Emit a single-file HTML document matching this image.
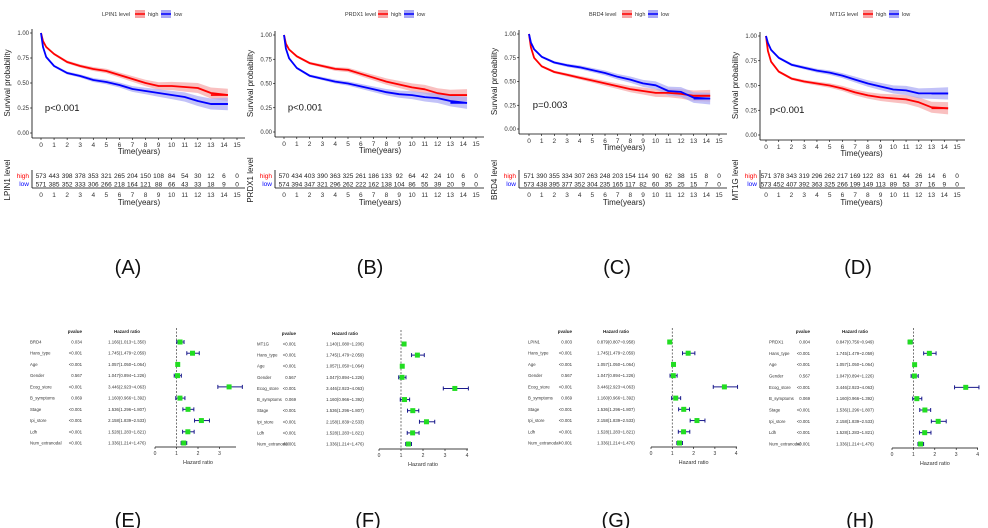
<!DOCTYPE html>
<html><head><meta charset="utf-8"><style>
body{margin:0;background:#fff;}
svg{display:block;font-family:"Liberation Sans",sans-serif;}
</style></head><body>
<svg id="fig" width="988" height="528" viewBox="0 0 988 528"></svg>
<script>
// ---- KM data (survival at years) ----
const kmYears=[0,0.15,0.4,1,2,3,4,5,6,7,8,9,10,11,12,13,14.3];
const genes=["LPIN1","PRDX1","BRD4","MT1G"];
const pvals=["p<0.001","p<0.001","p=0.003","p<0.001"];
const highA=[1,0.92,0.86,0.79,0.71,0.67,0.64,0.62,0.58,0.54,0.50,0.47,0.47,0.46,0.45,0.40,0.38];
const lowA =[1,0.86,0.76,0.67,0.60,0.57,0.53,0.51,0.48,0.44,0.42,0.40,0.38,0.36,0.32,0.29,0.29];
const highB=[1,0.91,0.85,0.78,0.71,0.68,0.65,0.64,0.60,0.56,0.52,0.49,0.46,0.44,0.40,0.38,0.38];
const lowB =[1,0.86,0.76,0.66,0.58,0.55,0.52,0.50,0.47,0.44,0.41,0.39,0.38,0.36,0.35,0.32,0.30];
const highC=[1,0.86,0.75,0.66,0.60,0.57,0.54,0.51,0.48,0.45,0.42,0.40,0.38,0.38,0.37,0.35,0.35];
const lowC =[1,0.91,0.84,0.76,0.70,0.67,0.65,0.62,0.59,0.55,0.52,0.48,0.46,0.40,0.39,0.33,0.32];
const highD=[1,0.85,0.74,0.64,0.57,0.54,0.52,0.50,0.47,0.43,0.40,0.38,0.37,0.36,0.33,0.28,0.27];
const lowD =[1,0.93,0.86,0.78,0.71,0.68,0.65,0.63,0.60,0.56,0.52,0.49,0.46,0.45,0.42,0.42,0.42];
const riskHighA=[573,443,398,378,353,321,265,204,150,108,84,54,30,12,6,0];
const riskLowA =[571,385,352,333,306,266,218,164,121,88,66,43,33,18,9,0];
const riskHighB=[570,434,403,390,363,325,261,186,133,92,64,42,24,10,6,0];
const riskLowB =[574,394,347,321,296,262,222,162,138,104,86,55,39,20,9,0];
const riskHighC=[571,390,355,334,307,263,248,203,154,114,90,62,38,15,8,0];
const riskLowC =[573,438,395,377,352,304,235,165,117,82,60,35,25,15,7,0];
const riskHighD=[571,378,343,319,296,262,217,169,122,83,61,44,26,14,6,0];
const riskLowD =[573,452,407,392,363,325,266,199,149,113,89,53,37,16,9,0];
const xTicks=[0,1,2,3,4,5,6,7,8,9,10,11,12,13,14,15];
const yTicks=[0,0.25,0.5,0.75,1];
// ---- Forest data ----
const fNames=["Hans_type","Age","Gender","Ecog_store","B_symptoms","Stage","Ipi_store","Ldh","Num_extranodal"];
const fP=["<0.001","<0.001","0.567","<0.001","0.069","<0.001","<0.001","<0.001","<0.001"];
const fHR=[1.745,1.057,1.047,3.446,1.160,1.536,2.158,1.528,1.336];
const fLo=[1.479,1.050,0.894,2.923,0.966,1.296,1.839,1.283,1.214];
const fHi=[2.059,1.064,1.226,4.063,1.392,1.807,2.533,1.821,1.476];
const firstNames=["BRD4","MT1G","LPIN1","PRDX1"];
const firstP=["0.034","<0.001","0.003","0.004"];
const firstHR=[1.166,1.140,0.879,0.847];
const firstLo=[1.013,1.080,0.807,0.756];
const firstHi=[1.350,1.206,0.958,0.949];
const fTicks=[0,1,2,3,4];

const NS="http://www.w3.org/2000/svg";
const svg=document.getElementById('fig');
function mk(tag,at,parent,txt){const e=document.createElementNS(NS,tag);for(const k in at)e.setAttribute(k,at[k]);if(txt!==undefined)e.textContent=txt;(parent||svg).appendChild(e);return e;}

const kmHigh=[highA,highB,highC,highD],kmLow=[lowA,lowB,lowC,lowD];
const rH=[riskHighA,riskHighB,riskHighC,riskHighD],rL=[riskLowA,riskLowB,riskLowC,riskLowD];
const geo=[{ax:32,t0:41,t15:237,y1:33,y0:133},{ax:275,t0:284,t15:476,y1:35,y0:132},{ax:519,t0:529,t15:719,y1:34,y0:129},{ax:760,t0:766,t15:957,y1:36,y0:135}];
const labels=["(A)","(B)","(C)","(D)"];const labX=[128,370,617,858];

function linePath(sx,sy,ys){let d="";for(let i=0;i<ys.length;i++){d+=(i?" L":"M")+sx(kmYears[i]).toFixed(1)+","+sy(ys[i]).toFixed(1);}return d;}
function bandPath(sx,sy,ys){const w=i=>0.012+0.05*Math.pow(kmYears[i]/14.3,1.5);
 let d="";for(let i=0;i<ys.length;i++)d+=(i?" L":"M")+sx(kmYears[i])+","+sy(Math.min(1,ys[i]+w(i)));
 for(let i=ys.length-1;i>=0;i--)d+=" L"+sx(kmYears[i])+","+sy(ys[i]-w(i));return d+"Z";}

for(let p=0;p<4;p++){
 const g=geo[p];
 const sx=t=>g.t0+(g.t15-g.t0)*t/15, sy=v=>g.y0-(g.y0-g.y1)*v;
 const grp=mk('g',{});
 
 
 const lx=g.ax+70;
 const lt=mk('text',{x:lx,y:16,'font-size':5.5,fill:'#333'},grp,genes[p]+" level");
 
 const cols=[['#ff0000','#f7a5a5','high'],['#0000ff','#a8a8f5','low']];
 cols.forEach((c,i)=>{const bx=lx+33+i*26;
  const lg=mk('g',{},grp);
  
  mk('rect',{x:bx,y:10,width:10,height:8,fill:c[1]},lg);mk('line',{x1:bx,x2:bx+10,y1:14,y2:14,stroke:c[0],'stroke-width':1.5},lg);
  mk('text',{x:bx+13,y:16,'font-size':5.5,fill:'#333'},lg,c[2]);});
 [[kmHigh[p],cols[0]],[kmLow[p],cols[1]]].forEach(([ys,c])=>{
  const b=mk('path',{d:bandPath(sx,sy,ys),fill:c[1],opacity:0.7,stroke:'none'},grp);
  });
 [[kmHigh[p],cols[0]],[kmLow[p],cols[1]]].forEach(([ys,c])=>{
  const l=mk('path',{d:linePath(sx,sy,ys),fill:'none',stroke:c[0],'stroke-width':1.8,'stroke-linejoin':'round'},grp);
  
  const last=ys.length-1;
  mk('line',{x1:sx(kmYears[last-1]),x2:sx(kmYears[last]),y1:sy(ys[last]),y2:sy(ys[last]),stroke:c[0],'stroke-width':1.8},grp);});
 const ya=mk('line',{x1:g.ax,x2:g.ax,y1:g.y1-4,y2:g.y0+5,stroke:'#000','stroke-width':0.8},grp);
 
 const xa=mk('line',{x1:g.ax,x2:g.t15+8,y1:g.y0+5,y2:g.y0+5,stroke:'#000','stroke-width':0.8},grp);
 
 yTicks.forEach(v=>{mk('line',{x1:g.ax-2,x2:g.ax,y1:sy(v),y2:sy(v),stroke:'#000','stroke-width':0.6},grp);
  const t=mk('text',{x:g.ax-3,y:sy(v)+2,'font-size':6,'text-anchor':'end',fill:'#333'},grp,v.toFixed(2));
  });
 xTicks.forEach(v=>{mk('line',{x1:sx(v),x2:sx(v),y1:g.y0+5,y2:g.y0+7,stroke:'#000','stroke-width':0.6},grp);
  const t=mk('text',{x:sx(v),y:g.y0+14,'font-size':6.5,'text-anchor':'middle',fill:'#333'},grp,v);
  });
 const xt=mk('text',{x:(g.t0+g.t15)/2,y:g.y0+21,'font-size':8,'text-anchor':'middle',fill:'#222'},grp,"Time(years)");
 
 const yt=mk('text',{x:0,y:0,'font-size':8,'text-anchor':'middle',fill:'#222',transform:`translate(${g.ax-22},${(g.y0+g.y1)/2}) rotate(-90)`},grp,"Survival probability");
 
 const pv=mk('text',{x:sx(0.3),y:sy(0.22),'font-size':9.5,fill:'#111'},grp,pvals[p]);
 
 const rt=mk('g',{},grp);
 
 mk('line',{x1:g.ax,x2:g.ax,y1:170,y2:188,stroke:'#000','stroke-width':0.8},rt);
 mk('line',{x1:g.ax,x2:g.t15+8,y1:188,y2:188,stroke:'#000','stroke-width':0.8},rt);
 mk('text',{x:g.ax-3,y:178,'font-size':6.5,'text-anchor':'end',fill:'#ff0000'},rt,"high");
 mk('text',{x:g.ax-3,y:186,'font-size':6.5,'text-anchor':'end',fill:'#0000ff'},rt,"low");
 const rl=mk('text',{x:0,y:0,'font-size':8,'text-anchor':'middle',fill:'#222',transform:`translate(${g.ax-22},180) rotate(-90)`},rt,genes[p]+" level");
 
 xTicks.forEach((v,i)=>{
  mk('text',{x:sx(v),y:178,'font-size':6.5,'text-anchor':'middle',fill:'#222'},rt,rH[p][i]);
  mk('text',{x:sx(v),y:186.5,'font-size':6.5,'text-anchor':'middle',fill:'#222'},rt,rL[p][i]);
  mk('text',{x:sx(v),y:197,'font-size':6.5,'text-anchor':'middle',fill:'#333'},rt,v);});
 mk('text',{x:(g.t0+g.t15)/2,y:205,'font-size':8,'text-anchor':'middle',fill:'#222'},rt,"Time(years)");
 const pl=mk('text',{x:labX[p],y:274,'font-size':20,'text-anchor':'middle',fill:'#111'},grp,labels[p]);
 
}

const fgeo=[{nx:30,px:82,hx:127,x0:155,u:21.5,r0:342,r1:443,ay:447,maxT:3,axEnd:236},
 {nx:257,px:296,hx:345,x0:379,u:22,r0:344,r1:444,ay:449,maxT:4,axEnd:468},
 {nx:528,px:572,hx:616,x0:651,u:21.3,r0:342,r1:443,ay:447,maxT:4,axEnd:737},
 {nx:769,px:810,hx:855,x0:892,u:21.4,r0:342,r1:444,ay:448,maxT:4,axEnd:978}];
const flab=["(E)","(F)","(G)","(H)"];const flabX=[128,368,616,860];
for(let p=0;p<4;p++){
 const g=fgeo[p];const sx=v=>g.x0+g.u*v;
 const names=[firstNames[p]].concat(fNames),ps=[firstP[p]].concat(fP),hr=[firstHR[p]].concat(fHR),lo=[firstLo[p]].concat(fLo),hi=[firstHi[p]].concat(fHi);
 const step=(g.r1-g.r0)/(names.length-1);
 const grp=mk('g',{});
 
 
 mk('text',{x:g.px,y:g.r0-9,'font-size':4.5,'text-anchor':'end','font-weight':'bold',fill:'#222'},grp,"pvalue");
 mk('text',{x:g.hx,y:g.r0-9,'font-size':4.5,'text-anchor':'middle','font-weight':'bold',fill:'#222'},grp,"Hazard ratio");
 const dl=mk('line',{x1:sx(1),x2:sx(1),y1:g.r0-14,y2:g.ay,stroke:'#555','stroke-width':0.8,'stroke-dasharray':'2,1.5'},grp);
 
 names.forEach((n,i)=>{const y=g.r0+i*step;
  const row=mk('g',{},grp);
  
  mk('text',{x:g.nx,y:y+1.5,'font-size':4.3,fill:'#333'},row,n);
  mk('text',{x:g.px,y:y+1.5,'font-size':4.3,'text-anchor':'end',fill:'#333'},row,ps[i]);
  mk('text',{x:g.hx,y:y+1.5,'font-size':4.3,'text-anchor':'middle',fill:'#333'},row,hr[i].toFixed(3)+"("+lo[i].toFixed(3)+"~"+hi[i].toFixed(3)+")");
  mk('line',{x1:sx(lo[i]),x2:sx(hi[i]),y1:y,y2:y,stroke:'#1a1a8c','stroke-width':1},row);
  mk('line',{x1:sx(lo[i]),x2:sx(lo[i]),y1:y-2,y2:y+2,stroke:'#1a1a8c','stroke-width':1},row);
  mk('line',{x1:sx(hi[i]),x2:sx(hi[i]),y1:y-2,y2:y+2,stroke:'#1a1a8c','stroke-width':1},row);
  const pt=mk('rect',{x:sx(hr[i])-2.5,y:y-2.5,width:5,height:5,fill:'#22dd22'},row);
  });
 const ax=mk('line',{x1:sx(0),x2:g.axEnd,y1:g.ay,y2:g.ay,stroke:'#000','stroke-width':0.8},grp);
 
 fTicks.filter(t=>t<=g.maxT).forEach(t=>{mk('line',{x1:sx(t),x2:sx(t),y1:g.ay,y2:g.ay+2,stroke:'#000','stroke-width':0.6},grp);
  const tl=mk('text',{x:sx(t),y:g.ay+8,'font-size':5,'text-anchor':'middle',fill:'#333'},grp,t);
  });
 const at=mk('text',{x:sx(2),y:g.ay+17,'font-size':5.5,'text-anchor':'middle',fill:'#333'},grp,"Hazard ratio");
 
 const pl=mk('text',{x:flabX[p],y:527,'font-size':20,'text-anchor':'middle',fill:'#111'},grp,flab[p]);
 
}
</script>
</body></html>
